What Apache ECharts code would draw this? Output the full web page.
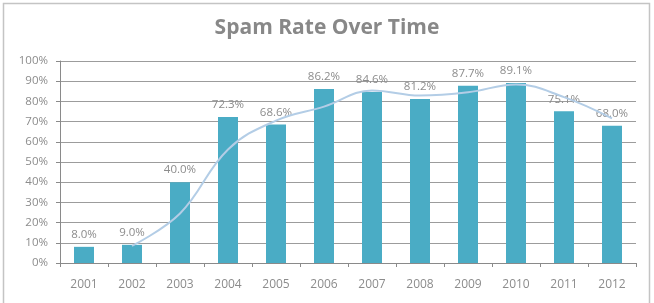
<!DOCTYPE html>
<html>
<head>
<meta charset="utf-8">
<script src="https://cdn.jsdelivr.net/npm/echarts@6/dist/echarts.min.js"></script>
<style>
  html, body { margin: 0; padding: 0; background: #fff; }
  #chart-container { width: 654px; height: 303px; }
</style>
</head>
<body>
<div id="chart-container"></div>
<script>
var dom = document.getElementById("chart-container");
var myChart = echarts.init(dom, null, { renderer: "canvas" });

// years on the x axis
const years = ["2001", "2002", "2003", "2004", "2005", "2006", "2007", "2008", "2009", "2010", "2011", "2012"];
// spam rate per year (%)
const spamRate = [8.0, 9.0, 40.0, 72.3, 68.6, 86.2, 84.6, 81.2, 87.7, 89.1, 75.1, 68.0];
// trend line (starts at 2002)
const trendLine = [null, 8.5, 24.5, 56.2, 70.5, 77.4, 85.4, 82.9, 84.5, 88.4, 82.1, 71.6];

var labelGray = "#8c8c8c";

var option = {
  backgroundColor: "#fff",
  animation: false,
  title: {
    text: "Spam Rate Over Time",
    left: "center",
    top: 13,
    textStyle: {
      fontFamily: "Open Sans",
      fontSize: 21,
      fontWeight: "bold",
      color: "#888888",
    },
  },
  graphic: [
    {
      type: "rect",
      shape: { x: 3.5, y: 3.5, width: 646, height: 310 },
      style: { fill: "none", stroke: "#c4c4c4", lineWidth: 1.5 },
      silent: true,
    },
  ],
  grid: { left: 60, right: 18, top: 61, bottom: 40 },
  xAxis: {
    type: "category",
    data: years,
    axisLine: { lineStyle: { color: "#8a8a8a" } },
    axisTick: { show: true, length: 4, lineStyle: { color: "#8a8a8a" } },
    axisLabel: { color: labelGray, fontSize: 12, margin: 16, fontFamily: "Open Sans" },
  },
  yAxis: {
    type: "value",
    min: 0,
    max: 100,
    interval: 10,
    axisLine: { show: true, lineStyle: { color: "#8a8a8a" } },
    axisTick: { show: true, length: 4, lineStyle: { color: "#8a8a8a" } },
    axisLabel: {
      color: labelGray,
      fontSize: 11.5,
      margin: 12,
      fontFamily: "Open Sans",
      formatter: "{value}%",
    },
    splitLine: { lineStyle: { color: "#9c9c9c", width: 1 } },
  },
  series: [
    {
      name: "Spam Rate",
      type: "bar",
      data: spamRate,
      barWidth: 20,
      itemStyle: { color: "#4aacc5" },
      label: {
        show: true,
        position: "top",
        distance: 6,
        color: labelGray,
        fontSize: 11.5,
        fontFamily: "Open Sans",
        formatter: function (p) {
          return p.value.toFixed(1) + "%";
        },
      },
    },
    {
      name: "Trend",
      type: "line",
      data: trendLine,
      smooth: 0.4,
      showSymbol: false,
      lineStyle: { color: "#b3cde6", width: 2 },
      z: 3,
    },
  ],
};

myChart.setOption(option);
window.addEventListener("resize", myChart.resize);
</script>
</body>
</html>
